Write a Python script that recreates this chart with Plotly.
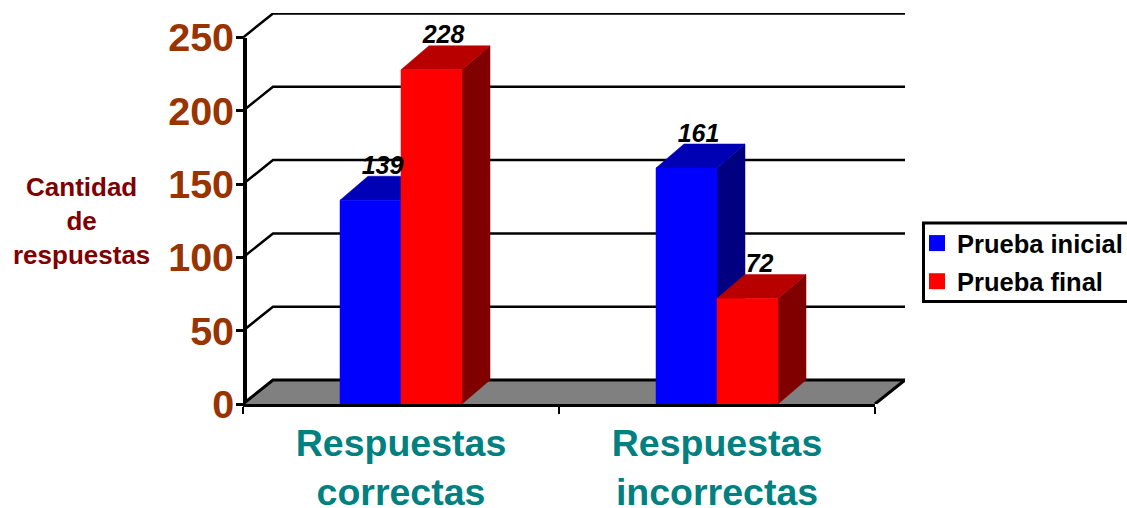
import plotly.graph_objects as go

categories = ["Respuestas<br>correctas", "Respuestas<br>incorrectas"]
series_names = ["Prueba inicial", "Prueba final"]
prueba_inicial = [139, 161]
prueba_final = [228, 72]
y_ticks = [0, 50, 100, 150, 200, 250]
labels_inicial = ["139", "161"]
labels_final = ["228", "72"]

FONT = "Liberation Sans, Arial, sans-serif"
W, H = 1127, 508
# full plot area, including the back wall
LEFT, RIGHT, TOP, BOTTOM = 243, 905, 13, 404
# front plane of the chart
FRONT_RIGHT, FRONT_TOP = 875, 37.5
PX_X = (FRONT_RIGHT - LEFT) / 2.0
PX_Y = (BOTTOM - FRONT_TOP) / 250.0
DX = (RIGHT - FRONT_RIGHT) / PX_X   # depth of the floor, in data units
DY = (BOTTOM - 380) / PX_Y
BDX = 28 / PX_X                     # depth of a bar
BDY = 24 / PX_Y
BAR_W = 61 / PX_X

BLUE = dict(front="#0000FF", top="#0000B4", side="#000080")
RED = dict(front="#FF0000", top="#B80000", side="#800000")


def paper_x(px):
    return (px - LEFT) / (RIGHT - LEFT)


def paper_y(py):
    return (BOTTOM - py) / (BOTTOM - TOP)


fig = go.Figure()


def poly(xs, ys, color):
    fig.add_trace(go.Scatter(x=xs + xs[:1], y=ys + ys[:1], mode="lines", fill="toself",
                             fillcolor=color, line=dict(color=color, width=0.5),
                             xaxis="x2", yaxis="y2",
                             showlegend=False, hoverinfo="skip", cliponaxis=False))


def outline(xs, ys, width=2.5):
    fig.add_trace(go.Scatter(x=xs, y=ys, mode="lines", line=dict(color="black", width=width),
                             xaxis="x2", yaxis="y2",
                             showlegend=False, hoverinfo="skip", cliponaxis=False))


# floor
poly([0, 2, 2 + DX, DX], [0, 0, DY, DY], "#808080")
outline([0, DX, 2 + DX, 2], [0, DY, DY, 0], 3)

# back wall gridlines
for t in y_ticks[1:]:
    outline([0, DX, 2 + DX], [t, t + DY, t + DY])


def bar(x0, v, c):
    x1 = x0 + BAR_W
    poly([x1, x1 + BDX, x1 + BDX, x1], [0, BDY, v + BDY, v], c["side"])
    poly([x0, x1, x1 + BDX, x0 + BDX], [v, v, v + BDY, v + BDY], c["top"])
    poly([x0, x1, x1, x0], [0, 0, v, v], c["front"])


for i in range(len(categories)):
    centre = i + 0.5
    bar(centre - BAR_W, prueba_inicial[i], BLUE)
    bar(centre, prueba_final[i], RED)

# value labels
lab_x, lab_y, lab_t = [], [], []
for i in range(len(categories)):
    centre = i + 0.5
    lab_x += [centre - BAR_W / 2 + BDX * 0.43, centre + BAR_W / 2 + BDX * 0.43]
    lab_y += [prueba_inicial[i] + 22.2, prueba_final[i] + 22.2]
    lab_t += [labels_inicial[i], labels_final[i]]
fig.add_trace(go.Scatter(x=lab_x, y=lab_y, text=lab_t, mode="text", textposition="middle center",
                         textfont=dict(family=FONT, size=25, color="black", weight="bold", style="italic"),
                         xaxis="x2", yaxis="y2",
                         showlegend=False, hoverinfo="skip", cliponaxis=False))

# legend entries
for name, c in zip(series_names, (BLUE, RED)):
    fig.add_trace(go.Scatter(x=[None], y=[None], mode="markers", name=name, legendgroup=name,
                             marker=dict(symbol="square", size=16, color=c["front"])))

fig.update_layout(
    width=W, height=H,
    margin=dict(l=LEFT, r=W - RIGHT, t=TOP, b=H - BOTTOM, pad=0, autoexpand=False),
    paper_bgcolor="white", plot_bgcolor="rgba(0,0,0,0)",
    font=dict(family=FONT),
    xaxis=dict(domain=[0, paper_x(FRONT_RIGHT)], range=[0, 2], tickvals=[0.5, 1.5], ticktext=categories,
               ticks="", showgrid=False, zeroline=False, showline=True, linecolor="black", linewidth=3,
               ticklabelstandoff=4, fixedrange=True,
               tickfont=dict(family=FONT, size=37.5, color="#008080", weight="bold"),
               minor=dict(tickvals=[0, 1, 2], ticks="outside", ticklen=7, tickwidth=2, tickcolor="black", showgrid=False)),
    yaxis=dict(domain=[0, paper_y(FRONT_TOP)], range=[0, 250], tickvals=y_ticks, ticks="outside", ticklen=7,
               tickwidth=3, tickcolor="black", showgrid=False, zeroline=False, showline=True, linecolor="black",
               linewidth=4, anchor="free", position=paper_x(LEFT + 2), ticklabelstandoff=-6, fixedrange=True,
               tickfont=dict(family=FONT, size=39.5, color="#993300", weight="bold")),
    xaxis2=dict(domain=[0, 1], range=[0, 2 + DX], visible=False, anchor="y2", fixedrange=True),
    yaxis2=dict(domain=[0, 1], range=[0, 250 * (BOTTOM - TOP) / (BOTTOM - FRONT_TOP)], visible=False, anchor="x2",
                fixedrange=True),
    legend=dict(xref="container", yref="container", x=917 / W, y=1 - 220 / H, xanchor="left", yanchor="top",
                bgcolor="rgba(0,0,0,0)", borderwidth=0, tracegroupgap=2,
                font=dict(family=FONT, size=25.5, color="black", weight="bold"),
                itemsizing="trace"),
    annotations=[dict(text="Cantidad<br>de<br>respuestas", xref="paper", yref="paper",
                      x=paper_x(81), y=paper_y(221), xanchor="center", yanchor="middle", showarrow=False,
                      align="center", font=dict(family=FONT, size=26, color="#800000", weight="bold"))],
    shapes=[dict(type="rect", xref="paper", yref="paper",
                 x0=paper_x(923.5), x1=paper_x(1135), y0=paper_y(301.5), y1=paper_y(223),
                 line=dict(color="black", width=3))],
)

fig.write_html("out.html", config={"displayModeBar": False},
               post_script="document.body.style.margin='0';document.body.style.overflow='hidden';")
